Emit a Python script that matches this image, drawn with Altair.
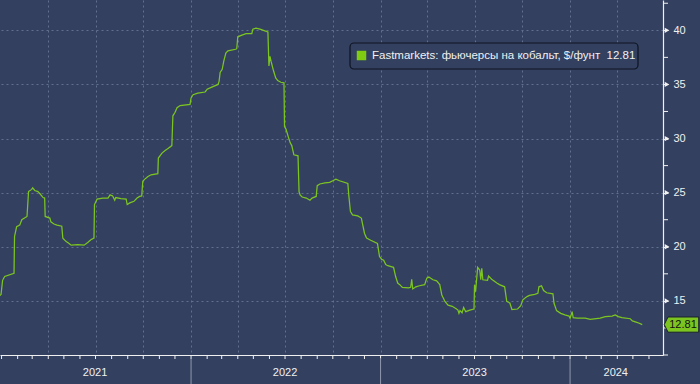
import altair as alt
import pandas as pd

# ---- series (Fastmarkets cobalt futures, $/lb) ----
dates = [
    "2020-12-29", "2020-12-31", "2021-01-03", "2021-01-07", "2021-01-25", "2021-01-26",
    "2021-01-30", "2021-02-05", "2021-02-09", "2021-02-19", "2021-02-22", "2021-02-28",
    "2021-03-02", "2021-03-06", "2021-03-12", "2021-03-16", "2021-03-22", "2021-03-25",
    "2021-03-26", "2021-04-04", "2021-04-06", "2021-04-12", "2021-04-18", "2021-04-27",
    "2021-04-29", "2021-05-05", "2021-05-11", "2021-05-15", "2021-05-28", "2021-06-09",
    "2021-06-16", "2021-06-22", "2021-06-28", "2021-06-29", "2021-07-04", "2021-07-15",
    "2021-07-25", "2021-07-29", "2021-08-03", "2021-08-07", "2021-08-09", "2021-08-19",
    "2021-08-29", "2021-08-31", "2021-09-05", "2021-09-13", "2021-09-19", "2021-09-24",
    "2021-09-28", "2021-09-30", "2021-10-04", "2021-10-10", "2021-10-16", "2021-10-29",
    "2021-10-30", "2021-11-06", "2021-11-12", "2021-11-17", "2021-11-25", "2021-11-27",
    "2021-12-01", "2021-12-05", "2021-12-11", "2021-12-30", "2022-01-01", "2022-01-05",
    "2022-01-14", "2022-01-28", "2022-02-01", "2022-02-10", "2022-02-22", "2022-02-24",
    "2022-02-26", "2022-03-02", "2022-03-05", "2022-03-09", "2022-03-13", "2022-03-28",
    "2022-03-30", "2022-04-01", "2022-04-09", "2022-04-17", "2022-04-28", "2022-04-30",
    "2022-05-06", "2022-05-14", "2022-05-23", "2022-05-29", "2022-05-31", "2022-06-02",
    "2022-06-04", "2022-06-08", "2022-06-13", "2022-06-17", "2022-06-23", "2022-06-29",
    "2022-06-30", "2022-07-03", "2022-07-07", "2022-07-11", "2022-07-14", "2022-07-18",
    "2022-07-26", "2022-07-28", "2022-07-30", "2022-08-03", "2022-08-11", "2022-08-18",
    "2022-08-22", "2022-08-30", "2022-09-01", "2022-09-06", "2022-09-16", "2022-09-25",
    "2022-10-01", "2022-10-07", "2022-10-14", "2022-10-30", "2022-11-01", "2022-11-04",
    "2022-11-08", "2022-11-18", "2022-11-25", "2022-12-01", "2022-12-05", "2022-12-13",
    "2022-12-26", "2022-12-30", "2023-01-03", "2023-01-07", "2023-01-11", "2023-01-15",
    "2023-01-26", "2023-01-30", "2023-02-03", "2023-02-07", "2023-02-12", "2023-02-24",
    "2023-02-28", "2023-03-02", "2023-03-04", "2023-03-10", "2023-03-17", "2023-03-27",
    "2023-03-31", "2023-04-04", "2023-04-12", "2023-04-19", "2023-04-25", "2023-04-29",
    "2023-05-05", "2023-05-11", "2023-05-19", "2023-05-26", "2023-05-30", "2023-06-01",
    "2023-06-03", "2023-06-07", "2023-06-10", "2023-06-14", "2023-06-22", "2023-06-30",
    "2023-07-01", "2023-07-03", "2023-07-07", "2023-07-11", "2023-07-13", "2023-07-15",
    "2023-07-17", "2023-07-26", "2023-07-28", "2023-08-03", "2023-08-13", "2023-08-18",
    "2023-08-28", "2023-09-01", "2023-09-07", "2023-09-11", "2023-09-22", "2023-09-28",
    "2023-10-02", "2023-10-10", "2023-10-15", "2023-10-25", "2023-10-31", "2023-11-02",
    "2023-11-07", "2023-11-11", "2023-11-17", "2023-11-29", "2023-12-01", "2023-12-06",
    "2023-12-14", "2023-12-22", "2023-12-30", "2024-01-01", "2024-01-05", "2024-01-07",
    "2024-01-15", "2024-01-30", "2024-02-09", "2024-02-28", "2024-03-09", "2024-03-22",
    "2024-03-28", "2024-04-03", "2024-04-10", "2024-04-26", "2024-04-30", "2024-05-10",
    "2024-05-19",
]
values = [
    15.5, 15.6, 16.9, 17.25, 17.55, 20.95,
    21.85, 22.0, 22.5, 22.8, 25.1, 25.3,
    25.45, 25.2, 25.1, 24.9, 24.55, 24.5,
    22.8, 22.65, 22.3, 22.1, 22.0, 21.9,
    20.8, 20.5, 20.3, 20.15, 20.2, 20.15,
    20.4, 20.65, 20.8, 23.9, 24.4, 24.5,
    24.5, 24.8, 24.7, 24.3, 24.55, 24.45,
    24.4, 23.9, 24.05, 24.2, 24.5, 24.65,
    24.7, 26.05, 26.25, 26.5, 26.65, 26.75,
    28.2, 28.65, 28.9, 29.05, 29.35, 32.1,
    32.4, 32.85, 33.05, 33.15, 33.75, 34.05,
    34.2, 34.3, 34.55, 34.75, 35.0, 35.3,
    36.1, 36.4, 37.15, 37.9, 38.1, 38.25,
    38.3, 39.4, 39.55, 39.7, 39.7, 40.1,
    40.2, 40.1, 39.95, 39.85, 36.7, 37.6,
    37.15, 36.4, 35.6, 35.35, 35.2, 35.15,
    31.1, 30.85, 30.2, 29.6, 29.35, 28.5,
    28.4, 25.1, 24.8, 24.6, 24.5, 24.3,
    24.5, 24.65, 25.65, 25.8, 25.9, 25.95,
    26.1, 26.25, 26.1, 25.85, 24.65, 23.25,
    22.95, 22.85, 22.65, 21.25, 20.8, 20.6,
    20.3, 19.1, 18.85, 18.75, 18.35, 18.25,
    18.1, 17.25, 16.65, 16.5, 16.25, 16.2,
    16.25, 17.0, 16.1, 16.3, 16.4, 16.5,
    17.1, 17.2, 16.95, 16.85, 16.5, 15.55,
    14.95, 14.6, 14.5, 14.3, 14.15, 13.85,
    14.1, 13.9, 14.4, 14.0, 14.15, 14.25,
    16.5, 15.85, 18.1, 17.85, 16.95, 18.0,
    16.95, 16.9, 17.3, 17.0, 16.65, 16.5,
    16.3, 14.95, 14.8, 14.2, 14.25, 14.55,
    15.1, 15.4, 15.5, 15.6, 15.7, 16.3,
    16.4, 15.95, 15.75, 15.65, 14.8, 14.1,
    13.85, 13.7, 13.6, 13.4, 14.0, 13.45,
    13.4, 13.4, 13.3, 13.4, 13.55, 13.6,
    13.7, 13.55, 13.45, 13.35, 13.15, 13.0,
    12.81,
]

series_name = "Fastmarkets: фьючерсы на кобальт, $/фунт\u00a0 12.81"
last_value = 12.81
last_label = "12.81"

x_domain = ["2020-12-29", "2024-06-28"]
y_domain = [10, 42.8]
y_major = [15, 20, 25, 30, 35, 40]
y_minor = [10, 12.5, 17.5, 22.5, 27.5, 32.5, 37.5, 42.5]
quarter_lines = [
    "2021-04-01", "2021-07-01", "2021-10-01", "2022-01-01", "2022-04-01", "2022-07-01",
    "2022-10-01", "2023-01-01", "2023-04-01", "2023-07-01", "2023-10-01", "2024-01-01",
    "2024-04-01",
]
month_ticks = pd.date_range("2021-01-01", "2024-06-01", freq="MS").strftime("%Y-%m-%d").tolist()
year_labels = ["2021", "2022", "2023", "2024"]
year_label_dates = ["2021-06-30", "2022-07-01", "2023-07-01", "2024-03-29"]
year_breaks = ["2022-01-01", "2023-01-01", "2024-01-01"]

# ---- styling ----
BG = "#334060"
GRID = "#62708E"
LINE = "#7CC520"
WHITE = "#F0F0F0"
FONT = "Liberation Sans"
PLOT_W, PLOT_H = 663, 355

quarter_dt = []
for s in quarter_lines:
    yy, mm, dd = (int(p) for p in s.split("-"))
    quarter_dt.append(alt.DateTime(year=yy, month=mm, date=dd, utc=True))

df = pd.DataFrame({"date": dates, "value": values})
xs = alt.Scale(type="utc", domain=x_domain, nice=False)
ys = alt.Scale(domain=y_domain, nice=False, zero=False)

XAXIS = alt.Axis(
    orient="bottom", labels=False, title=None, ticks=False,
    values=quarter_dt,
    domainColor=WHITE, domainWidth=1.2,
    grid=True, gridColor=GRID, gridDash=[2, 3], gridWidth=1,
)
YAXIS = alt.Axis(
    orient="right", values=y_major, title=None,
    tickSize=5, tickColor=WHITE, domainColor=WHITE, domainWidth=1.2,
    labelColor=WHITE, labelFont=FONT, labelFontSize=11, labelPadding=5,
    grid=True, gridColor=GRID, gridDash=[2, 3], gridWidth=1,
)

line = alt.Chart(df).mark_line(color=LINE, strokeWidth=1.25, interpolate="linear").encode(
    x=alt.X("date:T", scale=xs, axis=XAXIS),
    y=alt.Y("value:Q", scale=ys, axis=YAXIS),
)

mticks = alt.Chart(pd.DataFrame({"mdate": month_ticks})).mark_rule(
    color=WHITE, strokeWidth=1
).encode(x=alt.X("mdate:T"), y=alt.value(PLOT_H), y2=alt.value(PLOT_H + 4))

yminor = alt.Chart(pd.DataFrame({"minor": y_minor})).mark_rule(
    color=WHITE, strokeWidth=1
).encode(y=alt.Y("minor:Q"), x=alt.value(PLOT_W), x2=alt.value(PLOT_W + 5))

tri = alt.Chart(pd.DataFrame({"value": y_major})).mark_point(
    shape="triangle-right", filled=True, color=WHITE, size=28, opacity=1
).encode(x=alt.value(667), y=alt.Y("value:Q"))

badge_df = pd.DataFrame({"value": [last_value], "label": [last_label]})
badge = alt.Chart(badge_df).mark_point(
    shape="M -1 0 L -0.78 -0.44 L 1 -0.44 L 1 0.44 L -0.78 0.44 Z",
    filled=True, fill=LINE, stroke="#1A2030", strokeWidth=1, size=1190, opacity=1,
).encode(x=alt.value(681.5), y=alt.Y("value:Q"))
badge_text = alt.Chart(badge_df).mark_text(
    font=FONT, fontSize=11, color="#101010", align="center", baseline="middle"
).encode(x=alt.value(683), y=alt.Y("value:Q"), text="label:N")

years = alt.Chart(pd.DataFrame({"date": year_label_dates, "label": year_labels})).mark_text(
    font=FONT, fontSize=11, color=WHITE, align="center", baseline="middle"
).encode(x=alt.X("date:T"), y=alt.value(373), text="label:N")

seps = alt.Chart(pd.DataFrame({"date": year_breaks})).mark_rule(
    color="#8F98AC", strokeWidth=1
).encode(x=alt.X("date:T"), y=alt.value(358), y2=alt.value(384))

legend_df = pd.DataFrame({"label": [series_name]})
leg_box = alt.Chart(legend_df).mark_rect(
    fill=BG, stroke="#0E1320", strokeWidth=1.2, cornerRadius=4
).encode(x=alt.value(350), x2=alt.value(638), y=alt.value(43), y2=alt.value(69))
leg_sq = alt.Chart(legend_df).mark_point(
    shape="square", filled=True, color="#7FCC10", size=90, opacity=1
).encode(x=alt.value(361.5), y=alt.value(55.5))
leg_txt = alt.Chart(legend_df).mark_text(
    font=FONT, fontSize=11.5, color=WHITE, align="left", baseline="middle"
).encode(x=alt.value(372), y=alt.value(56), text="label:N")

chart = alt.layer(
    line, mticks, yminor, tri, seps, years, badge, badge_text, leg_box, leg_sq, leg_txt
).properties(
    width=PLOT_W, height=PLOT_H,
    autosize=alt.AutoSizeParams(type="none"),
    padding={"left": 0, "top": 0, "right": 37, "bottom": 29},
    background=BG,
).configure_view(stroke=None)

chart.save("out.html", embed_options={"renderer": "svg", "actions": False})
